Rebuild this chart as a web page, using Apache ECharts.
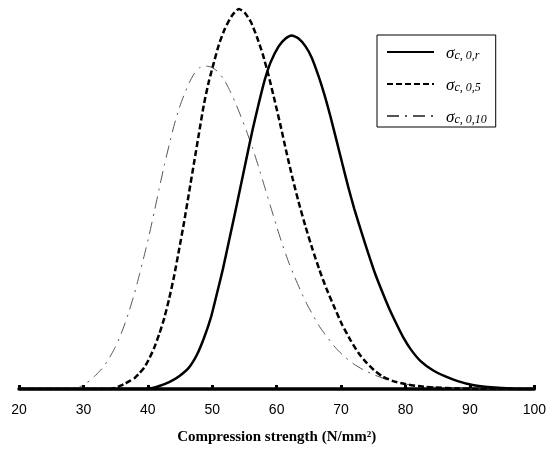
<!DOCTYPE html>
<html>
<head>
<meta charset="utf-8">
<script src="https://cdn.jsdelivr.net/npm/echarts@6/dist/echarts.min.js"></script>
<style>html,body{margin:0;padding:0;background:#fff;}#c{width:549px;height:450px;}</style>
</head>
<body>
<div id="c"></div>
<script>
// x: compression strength (N/mm2), y: relative density (arbitrary units)
var seriesNames = ['σc,0,r', 'σc,0,5', 'σc,0,10'];
var legendSubs = ['c, 0,r', 'c, 0,5', 'c, 0,10'];
var xTicks = [20, 30, 40, 50, 60, 70, 80, 90, 100];

var solidData = [[20,0],[39.5,0],[40.70,1],[41.78,3],[43.32,7],[44.86,13],[46.41,22],[47.64,35],[48.73,52],[49.81,73],[50.73,97],[51.66,122],[52.59,150],[53.51,178],[54.44,207],[55.37,236],[56.29,264],[57.22,290],[58.15,314],[59.07,332],[60.31,348],[61.39,356],[62.32,359],[63.40,356],[64.48,348],[65.41,337],[66.49,318],[67.41,299],[68.34,277],[69.27,253],[70.19,229],[71.12,205],[72.05,183],[73.13,160],[74.21,138],[75.29,117],[76.37,99],[77.45,82],[78.53,67],[79.61,53],[80.85,40],[82.39,28],[84.25,19],[86.10,13],[88.11,8],[90.42,4],[92.74,2],[95.06,1],[97.37,0],[100,0]];
var dashedData = [[20,0],[34.0,0],[34.83,1],[35.60,3],[36.37,5],[37.14,8],[37.92,11],[38.69,16],[39.46,22],[40.23,31],[41.00,42],[41.78,56],[42.55,72],[43.32,92],[44.09,115],[44.86,142],[45.64,170],[46.41,200],[47.18,230],[47.95,260],[48.73,290],[49.50,313],[50.27,332],[51.04,350],[51.97,366],[53.05,379],[54.13,386],[55.06,382],[55.98,373],[56.91,358],[57.84,340],[58.76,318],[59.69,293],[60.62,267],[61.54,240],[62.47,214],[63.40,190],[64.48,165],[65.56,142],[66.64,121],[67.72,102],[68.96,83],[70.19,65],[71.43,50],[72.66,37],[73.90,27],[75.14,19],[76.37,13],[78.07,8],[79.92,5],[81.93,3],[84.56,1.5],[88.11,0.5],[91.20,0],[100,0]];
var dashDotData = [[20,0],[28.0,0],[28.65,0.5],[29.42,2],[30.19,5],[30.97,8.5],[31.74,13],[32.51,18],[33.28,24],[34.05,32],[34.83,41],[35.60,52],[36.37,65],[37.14,80],[37.92,97],[38.69,116],[39.46,136],[40.23,157],[41.00,180],[41.78,204],[42.55,227],[43.32,248],[44.09,268],[44.86,285],[45.64,299],[46.41,311],[47.18,320],[47.95,326],[48.88,328],[49.81,327],[50.73,323],[51.66,316],[52.59,305],[53.51,292],[54.44,277],[55.37,261],[56.29,244],[57.22,225],[58.15,205],[59.07,185],[60.00,165],[60.93,146],[61.85,129],[62.78,114],[63.71,100],[64.63,87],[65.71,74],[66.80,62],[68.03,51],[69.27,41],[70.50,33],[72.05,25],[73.59,19],[75.29,14],[77.30,9],[79.61,5.5],[81.93,3],[85.02,1.5],[88.11,0.5],[91.20,0],[100,0]];

var chart = echarts.init(document.getElementById('c'));
var subMap = {};
seriesNames.forEach(function(n, i){ subMap[n] = legendSubs[i]; });

chart.setOption({
  animation: false,
  backgroundColor: '#fff',
  grid: {left: 19, right: 12, top: 5, bottom: 55, containLabel: false},
  legend: {
    orient: 'vertical',
    left: 377, top: 35,
    padding: [10, 9, 1, 9],
    borderColor: '#000', borderWidth: 1,
    itemWidth: 47, itemHeight: 14, itemGap: 15,
    itemStyle: {opacity: 0},
    data: seriesNames,
    formatter: function(n){ return '{s|σ}{sub|' + subMap[n] + '}'; },
    textStyle: {
      rich: {
        s: {fontFamily: 'Liberation Serif', fontStyle: 'italic', fontSize: 17, color: '#000', verticalAlign: 'bottom', padding: [0, 0, 0, 7]},
        sub: {fontFamily: 'Liberation Serif', fontStyle: 'italic', fontSize: 12, color: '#000', padding: [8, 0, 0, 0], verticalAlign: 'bottom'}
      }
    }
  },
  xAxis: {
    type: 'value', min: 20, max: 100, interval: 10,
    axisLine: {show: true, lineStyle: {color: '#000', width: 3.5}},
    axisTick: {show: true, inside: true, length: 4, lineStyle: {color: '#000', width: 3}},
    splitLine: {show: false},
    axisLabel: {margin: 14, color: '#000', fontFamily: 'Liberation Sans Narrow, Liberation Sans, sans-serif', fontSize: 14,
      formatter: function(v){ return xTicks.indexOf(v) >= 0 ? String(v) : ''; }},
    name: 'Compression strength (N/mm²)',
    nameLocation: 'middle', nameGap: 41,
    nameTextStyle: {fontFamily: 'Liberation Serif', fontWeight: 'bold', fontSize: 15, color: '#000'}
  },
  yAxis: {type: 'value', min: 0, max: 390, show: false},
  series: [
    {name: seriesNames[0], type: 'line', data: solidData, smooth: 0.2, symbol: 'none',
     lineStyle: {color: '#000', width: 2.5, type: 'solid'}, itemStyle: {color: '#000'}, z: 3},
    {name: seriesNames[1], type: 'line', data: dashedData, smooth: 0.2, symbol: 'none',
     lineStyle: {color: '#000', width: 2.5, type: [6, 3]}, itemStyle: {color: '#000'}, z: 2},
    {name: seriesNames[2], type: 'line', data: dashDotData, smooth: 0.2, symbol: 'none',
     lineStyle: {color: '#555', width: 1, type: [12, 6, 2, 6]}, itemStyle: {color: '#555'}, z: 1}
  ]
});
</script>
</body>
</html>
